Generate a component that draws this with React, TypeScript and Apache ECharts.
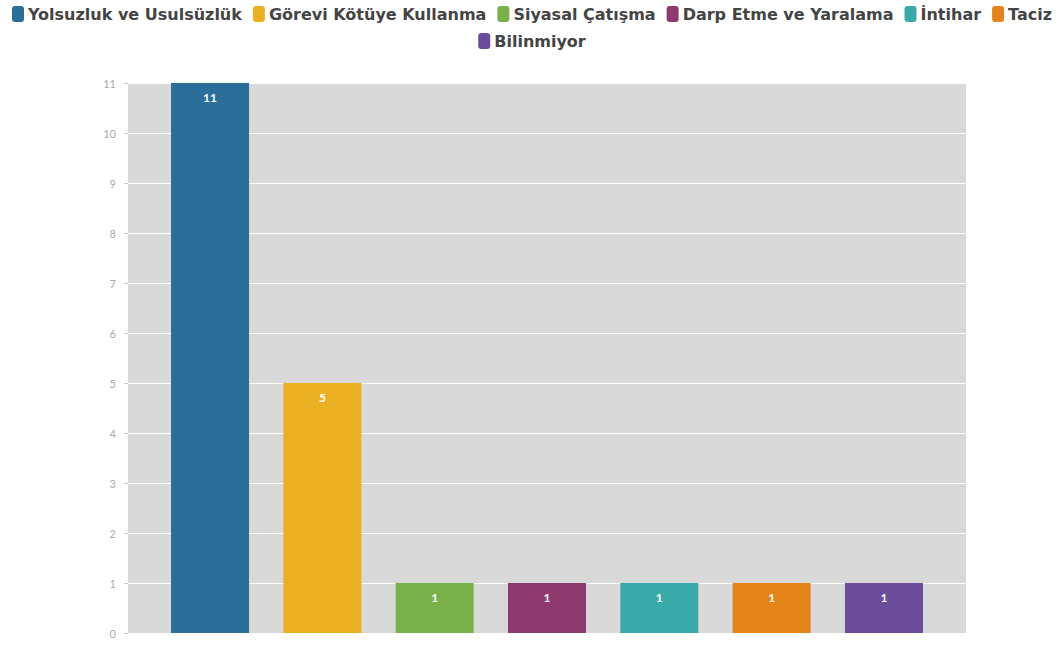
import React, { useEffect, useRef } from "react";
import * as echarts from "echarts";

const seriesNames = [
  "Yolsuzluk ve Usulsüzlük",
  "Görevi Kötüye Kullanma",
  "Siyasal Çatışma",
  "Darp Etme ve Yaralama",
  "İntihar",
  "Taciz",
  "Bilinmiyor",
];
const seriesValues = [11, 5, 1, 1, 1, 1, 1];
const seriesColors = ["#2b6e99", "#ebb021", "#78b14a", "#8e3a6f", "#3aa9aa", "#e5831b", "#6a4c9b"];
const categories = [""];

export default function App() {
  const ref = useRef<HTMLDivElement>(null);
  useEffect(() => {
    if (!ref.current) return;
    const chart = echarts.init(ref.current, undefined, { renderer: "svg" });
    const legendBase = {
      left: "center",
      padding: 0,
      itemWidth: 12,
      itemHeight: 16,
      itemGap: 11,
      icon: "roundRect",
      textStyle: { fontSize: 16, fontWeight: "bold", color: "#444", fontFamily: "DejaVu Sans", padding: [0, 0, 0, -1] },
    };
    chart.setOption({
      animation: false,
      backgroundColor: "#ffffff",
      textStyle: { fontFamily: "Lato" },
      legend: [
        { ...legendBase, top: 6, data: seriesNames.slice(0, 6) },
        { ...legendBase, top: 33, data: seriesNames.slice(6) },
      ],
      grid: { left: 128, right: 98, top: 83, bottom: 12, containLabel: false, show: true, backgroundColor: "#d9d9d9", borderWidth: 0 },
      xAxis: {
        type: "category",
        data: categories,
        axisLine: { show: false },
        axisTick: { show: false },
        axisLabel: { show: false },
        splitLine: { show: false },
      },
      yAxis: {
        type: "value",
        min: 0,
        max: 11,
        interval: 1,
        axisLine: { show: false },
        axisTick: { show: true, length: 4, lineStyle: { color: "#ccc" } },
        axisLabel: { color: "#aaa", fontSize: 11, margin: 12 },
        splitLine: { show: true, lineStyle: { color: "#ffffff", width: 1 } },
      },
      series: seriesNames.map((name, i) => ({
        name,
        type: "bar",
        data: [seriesValues[i]],
        barWidth: 78,
        barGap: "44%",
        itemStyle: { color: seriesColors[i] },
        label: {
          show: true,
          position: "insideTop",
          distance: 8,
          color: "#ffffff",
          fontWeight: "bold",
          fontSize: 12,
        },
      })),
    });
    return () => chart.dispose();
  }, []);
  return <div ref={ref} style={{ width: 1064, height: 645, position: "absolute", left: 0, top: 0 }} />;
}
